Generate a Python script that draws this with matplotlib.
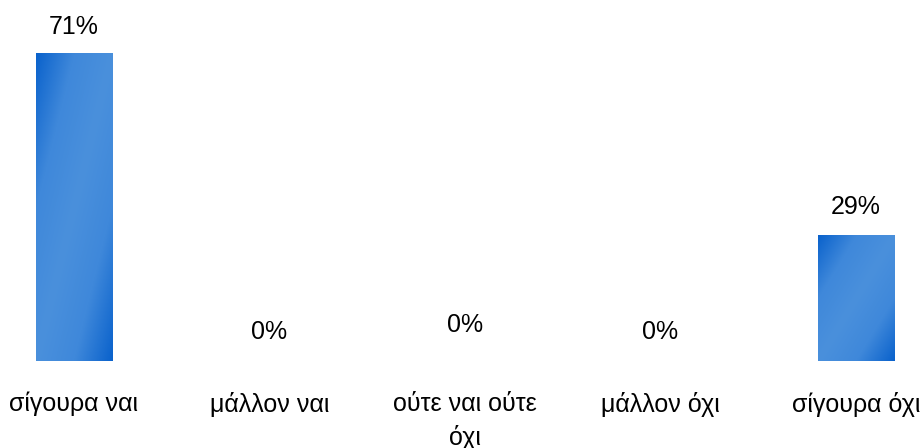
import numpy as np
import matplotlib
matplotlib.use("Agg")
import matplotlib.pyplot as plt
from matplotlib.colors import LinearSegmentedColormap

categories = ["σίγουρα ναι", "μάλλον ναι", "ούτε ναι ούτε\nόχι", "μάλλον όχι", "σίγουρα όχι"]
percent = [71, 0, 0, 0, 29]
label_offset = [26, 29, 36, 29, 28]  # px above bar top, as in the original

plt.rcParams['font.family'] = ['Liberation Sans', 'DejaVu Sans']

fig = plt.figure(figsize=(9.23, 4.48), dpi=100)
ax = fig.add_axes([0, 87 / 448, 1, 361 / 448])
ax.set_xlim(-0.378, 4.343)
ax.set_ylim(0, 83.2)

# diagonal "dark - light - dark" gradient
cmap = LinearSegmentedColormap.from_list("g", ["#0a62cc", "#3f88da", "#4a90dc", "#3f88da", "#0a62cc"])
u = np.linspace(0, 1, 100)
v = np.linspace(1, 0, 200)
U, V = np.meshgrid(u, v)
grad = (U + (1 - V)) / 2

x = np.arange(len(categories))
w = 0.39
bars = ax.bar(x, percent, width=w, color="none", edgecolor="none")
for b, p in zip(bars, percent):
    if p <= 0:
        continue
    im = ax.imshow(grad, cmap=cmap, vmin=0, vmax=1, aspect="auto",
                   extent=[b.get_x(), b.get_x() + w, 0, p], interpolation="bilinear")
    im.set_clip_path(b)

for xi, p, off in zip(x, percent, label_offset):
    ax.annotate(f"{p}%", (xi, p), xytext=(0, off * 0.72), textcoords="offset points",
                ha="center", va="center", fontsize=18)

ax.set_xticks(x)
ax.set_xticklabels(categories, fontsize=18, linespacing=1.45)
ax.tick_params(axis="x", length=0, pad=22)
ax.set_yticks([])
for s in ax.spines.values():
    s.set_visible(False)

fig.savefig("out.png", dpi=100)
